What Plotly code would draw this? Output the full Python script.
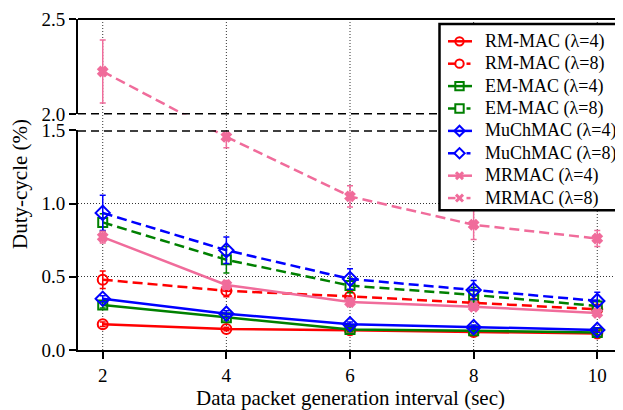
import plotly.graph_objects as go

# ---------------- data ----------------
x_vals = [2, 4, 6, 8, 10]
x_ticks = [2, 4, 6, 8, 10]

rm4 = [0.176, 0.144, 0.135, 0.123, 0.112]
rm8 = [0.480, 0.404, 0.366, 0.320, 0.278]
em4 = [0.307, 0.221, 0.140, 0.132, 0.120]
em8 = [0.871, 0.616, 0.440, 0.376, 0.300]
mu4 = [0.350, 0.248, 0.176, 0.156, 0.137]
mu8 = [0.936, 0.681, 0.485, 0.410, 0.335]
mr4 = [0.771, 0.444, 0.327, 0.295, 0.253]
mr8 = [2.225, 1.455, 1.049, 0.855, 0.761]

rm4_err = [0.015, 0.012, 0.012, 0.012, 0.012]
rm8_err = [0.06, 0.04, 0.03, 0.03, 0.03]
em4_err = [0.02, 0.02, 0.015, 0.015, 0.015]
em8_err = [0.06, 0.09, 0.05, 0.05, 0.04]
mu4_err = [0.02, 0.02, 0.015, 0.015, 0.015]
mu8_err = [0.12, 0.09, 0.07, 0.065, 0.06]
mr4_err = [0.04, 0.03, 0.03, 0.02, 0.02]
mr8_err = [0.165, 0.075, 0.073, 0.10, 0.055]

names = ["RM-MAC (λ=4)", "RM-MAC (λ=8)", "EM-MAC (λ=4)", "EM-MAC (λ=8)",
         "MuChMAC (λ=4)", "MuChMAC (λ=8)", "MRMAC (λ=4)", "MRMAC (λ=8)"]

# ---------------- style ----------------
RED, GREEN, BLUE, PINK = "#ff0000", "#008000", "#0000ff", "#f06c9b"
FONT = "Liberation Serif, Times New Roman, Times, DejaVu Serif, serif"
DASH = "10px,5px"

lower_range = [0.0, 1.5]
upper_range = [2.0, 2.5]
# plot area in page pixels (body has 8px margin)
PX_L, PX_R, PX_T, PX_B = 78.0, 622.0, 16.0, 350.0
PW, PH = PX_R - PX_L, PX_B - PX_T
D1 = (PX_B - 128.3) / PH   # top of lower domain
D2 = (PX_B - 112.3) / PH   # bottom of upper domain


def frac_lower(v):
    return (v - lower_range[0]) / (lower_range[1] - lower_range[0]) * D1


def frac_upper(v):
    return D2 + (v - upper_range[0]) / (upper_range[1] - upper_range[0]) * (1 - D2)


def to_lower(f):
    return lower_range[0] + f / D1 * (lower_range[1] - lower_range[0])


def to_upper(f):
    return upper_range[0] + (f - D2) / (1 - D2) * (upper_range[1] - upper_range[0])


def px(xp):
    return (xp - PX_L) / PW


def py(yp):
    return (PX_B - yp) / PH


fig = go.Figure()

series = [
    (rm4, rm4_err, RED, "circle-open", "solid", 10),
    (rm8, rm8_err, RED, "circle-open", DASH, 10),
    (em4, em4_err, GREEN, "square-open", "solid", 9),
    (em8, em8_err, GREEN, "square-open", DASH, 9),
    (mu4, mu4_err, BLUE, "diamond-open", "solid", 11),
    (mu8, mu8_err, BLUE, "diamond-open", DASH, 11),
    (mr4, mr4_err, PINK, "x", "solid", 8),
    (mr8, mr8_err, PINK, "x", DASH, 8),
]

for name, (vals, errs, col, sym, dash, msz) in zip(names, series):
    lx = [x for x, v in zip(x_vals, vals) if v <= lower_range[1]]
    ly = [v for v in vals if v <= lower_range[1]]
    le = [e for v, e in zip(vals, errs) if v <= lower_range[1]]
    ux = [x for x, v in zip(x_vals, vals) if v >= upper_range[0]]
    uy = [v for v in vals if v >= upper_range[0]]
    ue = [e for v, e in zip(vals, errs) if v >= upper_range[0]]
    mk = dict(symbol=sym, size=msz, color=col, line=dict(width=2, color=col))
    if ux:
        # connecting segments across the axis break (clipped per panel)
        seg_x = [ux[-1], lx[0]]
        fig.add_trace(go.Scatter(
            x=seg_x, y=[to_lower(frac_upper(uy[-1])), ly[0]], xaxis="x", yaxis="y",
            mode="lines", line=dict(color=col, width=2.5, dash=dash),
            showlegend=False, hoverinfo="skip"))
        fig.add_trace(go.Scatter(
            x=seg_x, y=[uy[-1], to_upper(frac_lower(ly[0]))], xaxis="x", yaxis="y2",
            mode="lines", line=dict(color=col, width=2.5, dash=dash),
            showlegend=False, hoverinfo="skip"))
        fig.add_trace(go.Scatter(
            x=ux, y=uy, xaxis="x", yaxis="y2", mode="lines+markers", name=name,
            line=dict(color=col, width=2.5, dash=dash), marker=mk,
            error_y=dict(type="data", array=ue, color=col, thickness=1.5, width=3),
            showlegend=False))
    fig.add_trace(go.Scatter(
        x=lx, y=ly, xaxis="x", yaxis="y", mode="lines+markers", name=name,
        line=dict(color=col, width=2.5, dash=dash), marker=mk, showlegend=False,
        error_y=dict(type="data", array=le, color=col, thickness=1.5, width=3)))

# ---------------- shapes ----------------
shapes = []
for xt in x_ticks:
    shapes.append(dict(type="line", xref="x", yref="paper", x0=xt, x1=xt, y0=0, y1=1,
                       line=dict(color="#333333", width=1, dash="1px,2px"), layer="below"))
shapes.append(dict(type="line", xref="paper", yref="y2", x0=0, x1=1, y0=upper_range[0], y1=upper_range[0],
                   line=dict(color="black", width=3, dash="8px,5px")))
shapes.append(dict(type="line", xref="paper", yref="y", x0=0, x1=1, y0=lower_range[1], y1=lower_range[1],
                   line=dict(color="black", width=3, dash="8px,5px")))
shapes.append(dict(type="line", xref="paper", yref="paper", x0=0, x1=1, y0=1, y1=1,
                   line=dict(color="black", width=2)))

# ---------------- legend (drawn as box + keys + text) ----------------
LEG_L, LEG_R, LEG_T, LEG_B = 439.5, 621.0, 21.0, 209.0
ROW0, ROW_STEP = 38.5, 22.6
KEY_L, KEY_R, KEY_C, TXT_X = 448.0, 472.0, 459.5, 483.0
annotations = []
shapes.append(dict(type="rect", xref="paper", yref="paper", x0=px(LEG_L), x1=px(LEG_R),
                   y0=py(LEG_B), y1=py(LEG_T), fillcolor="white",
                   line=dict(color="black", width=2.5)))
for i, (name, (vals, errs, col, sym, dash, msz)) in enumerate(zip(names, series)):
    cy = ROW0 + i * ROW_STEP
    if dash == "solid":
        segs = [(KEY_L, KEY_R)]
    else:
        segs = [(KEY_L, 455.5), (466.5, 470.5)]
    for a, b in segs:
        shapes.append(dict(type="line", xref="paper", yref="paper", x0=px(a), x1=px(b),
                           y0=py(cy), y1=py(cy), line=dict(color=col, width=2.5)))
    r = 4.2
    if sym.startswith("circle"):
        shapes.append(dict(type="circle", xref="paper", yref="paper",
                           x0=px(KEY_C - r), x1=px(KEY_C + r), y0=py(cy + r), y1=py(cy - r),
                           line=dict(color=col, width=2)))
    elif sym.startswith("square"):
        shapes.append(dict(type="rect", xref="paper", yref="paper",
                           x0=px(KEY_C - r), x1=px(KEY_C + r), y0=py(cy + r), y1=py(cy - r),
                           line=dict(color=col, width=2)))
    elif sym.startswith("diamond"):
        d = 5.2
        path = (f"M {px(KEY_C - d)},{py(cy)} L {px(KEY_C)},{py(cy - d)} "
                f"L {px(KEY_C + d)},{py(cy)} L {px(KEY_C)},{py(cy + d)} Z")
        shapes.append(dict(type="path", xref="paper", yref="paper", path=path,
                           line=dict(color=col, width=2)))
    else:
        d = 3.5
        for sgn in (1, -1):
            shapes.append(dict(type="line", xref="paper", yref="paper",
                               x0=px(KEY_C - d), x1=px(KEY_C + d),
                               y0=py(cy - sgn * d), y1=py(cy + sgn * d),
                               line=dict(color=col, width=3)))
    annotations.append(dict(text=name, xref="paper", yref="paper", x=px(TXT_X), y=py(cy),
                            xanchor="left", yanchor="middle", showarrow=False,
                            font=dict(family=FONT, size=18, color="black")))

annotations += [
    dict(text="Duty-cycle (%)", xref="paper", yref="paper", x=px(19.5), y=0.5,
         xanchor="center", yanchor="middle", textangle=-90, showarrow=False,
         font=dict(family=FONT, size=21, color="black")),
    dict(text="Data packet generation interval (sec)", xref="paper", yref="paper",
         x=0.5, y=py(398), xanchor="center", yanchor="middle", showarrow=False,
         font=dict(family=FONT, size=21, color="black")),
]

axis_common = dict(showline=True, linecolor="black", linewidth=2, ticks="outside",
                   ticklen=7, tickwidth=2, tickcolor="black",
                   tickfont=dict(family=FONT, size=19, color="black"))

# page body has an 8px default margin: figure spans x 8..623, y 8..410
fig.update_layout(
    width=615, height=402,
    margin=dict(l=70, r=1, t=8, b=60),
    paper_bgcolor="white", plot_bgcolor="white",
    font=dict(family=FONT, color="black"),
    showlegend=False,
    xaxis=dict(range=[1.6, 10.4], tickvals=x_ticks, showgrid=False, zeroline=False,
               anchor="y", **axis_common),
    yaxis=dict(domain=[0, D1], range=lower_range, tickvals=[0, 0.5, 1.0, 1.5], tickformat=".1f",
               showgrid=True, gridcolor="#333333", gridwidth=1, griddash="1px,2px",
               zeroline=False, anchor="x", **axis_common),
    yaxis2=dict(domain=[D2, 1], range=upper_range, tickvals=[2.0, 2.5], tickformat=".1f",
                showgrid=False, zeroline=False, anchor="x", **axis_common),
    shapes=shapes,
    annotations=annotations,
)

fig.write_html("out.html")
